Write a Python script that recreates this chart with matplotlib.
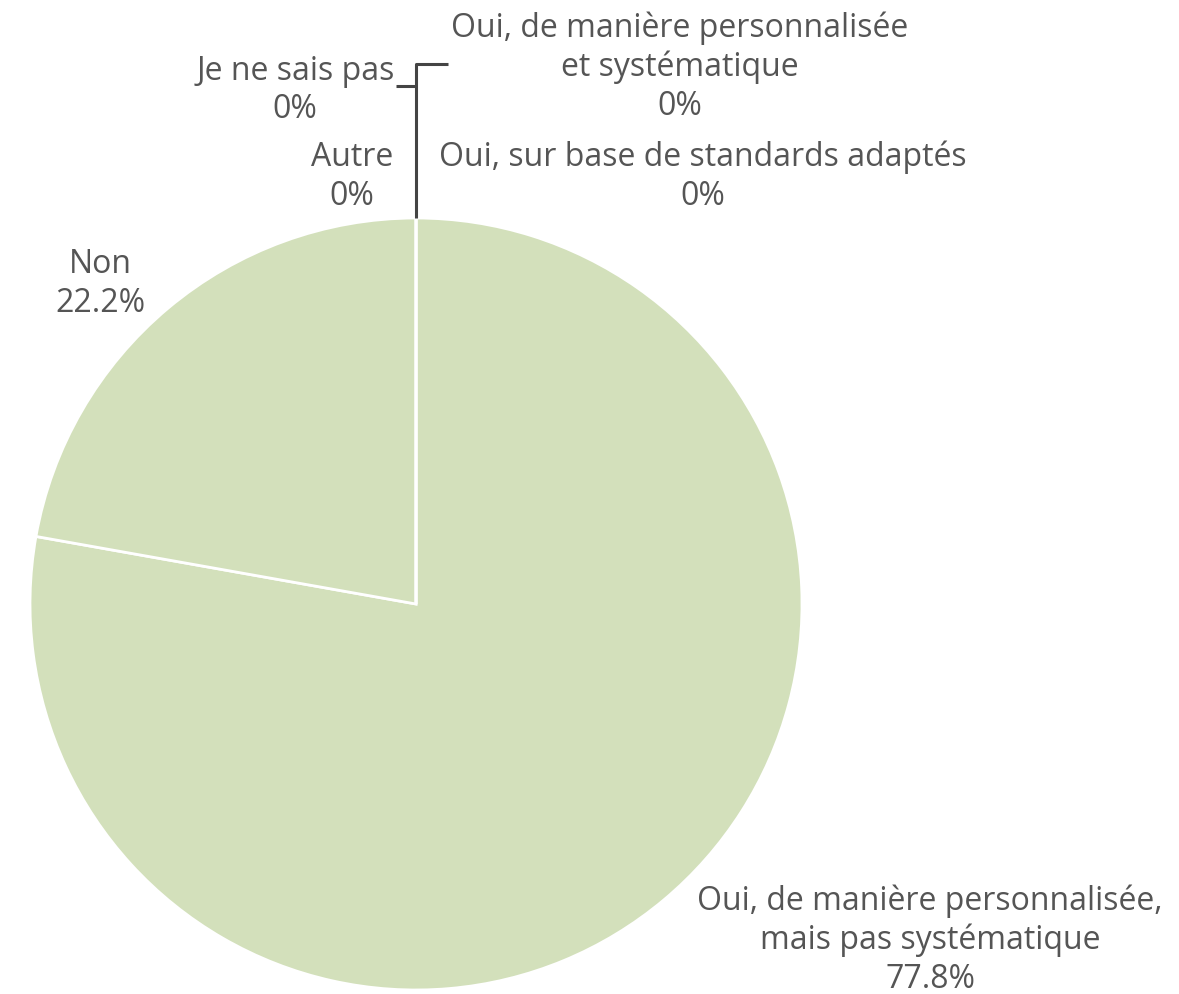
import matplotlib.pyplot as plt

# Data
labels = ['Oui, de manière personnalisée\net systématique',
          'Oui, sur base de standards adaptés',
          'Oui, de manière personnalisée,\nmais pas systématique',
          'Non',
          'Autre',
          'Je ne sais pas']
values = [0, 0, 77.8, 22.2, 0, 0]

plt.rcParams['font.family'] = ['Open Sans', 'DejaVu Sans']

fig = plt.figure(figsize=(11.79, 9.95), dpi=100)
ax = fig.add_axes([0, 0, 1, 1])
ax.axis('off')

H = 995
cx, cy, r = 416, H - 605, 386
ax.pie(values, startangle=90, counterclock=False, center=(cx, cy), radius=r,
       colors=['#d3e0bb'] * len(values),
       wedgeprops=dict(edgecolor='white', linewidth=2))
ax.set_xlim(0, 1179)
ax.set_ylim(0, 995)

def pct(v):
    return '0%' if v == 0 else f'{v:.1f}%'

# label placement (pixel coords: x, y of block center)
pos = {
    0: (680, 67),
    1: (703, 177),
    2: (930, 940),
    3: (100, 284),
    4: (352, 177),
}
fs = 23
txt = dict(color='#555555', fontsize=fs, ha='center', va='center', linespacing=1.22)
for i, lab in enumerate(labels):
    if i == 5:
        ax.text(395, H - 72, lab, color='#555555', fontsize=fs, ha='right', va='center')
        ax.text(295, H - 110, pct(values[i]), **txt)
    else:
        x, y = pos[i]
        ax.text(x, H - y, lab + '\n' + pct(values[i]), **txt)

# leader lines for the zero slices
ax.plot([416, 416, 448], [H - 219, H - 65, H - 65], color='#444444', lw=2.2, solid_capstyle='butt')
ax.plot([396, 416], [H - 87, H - 87], color='#444444', lw=2.2, solid_capstyle='butt')

fig.savefig('out.png', dpi=100)
